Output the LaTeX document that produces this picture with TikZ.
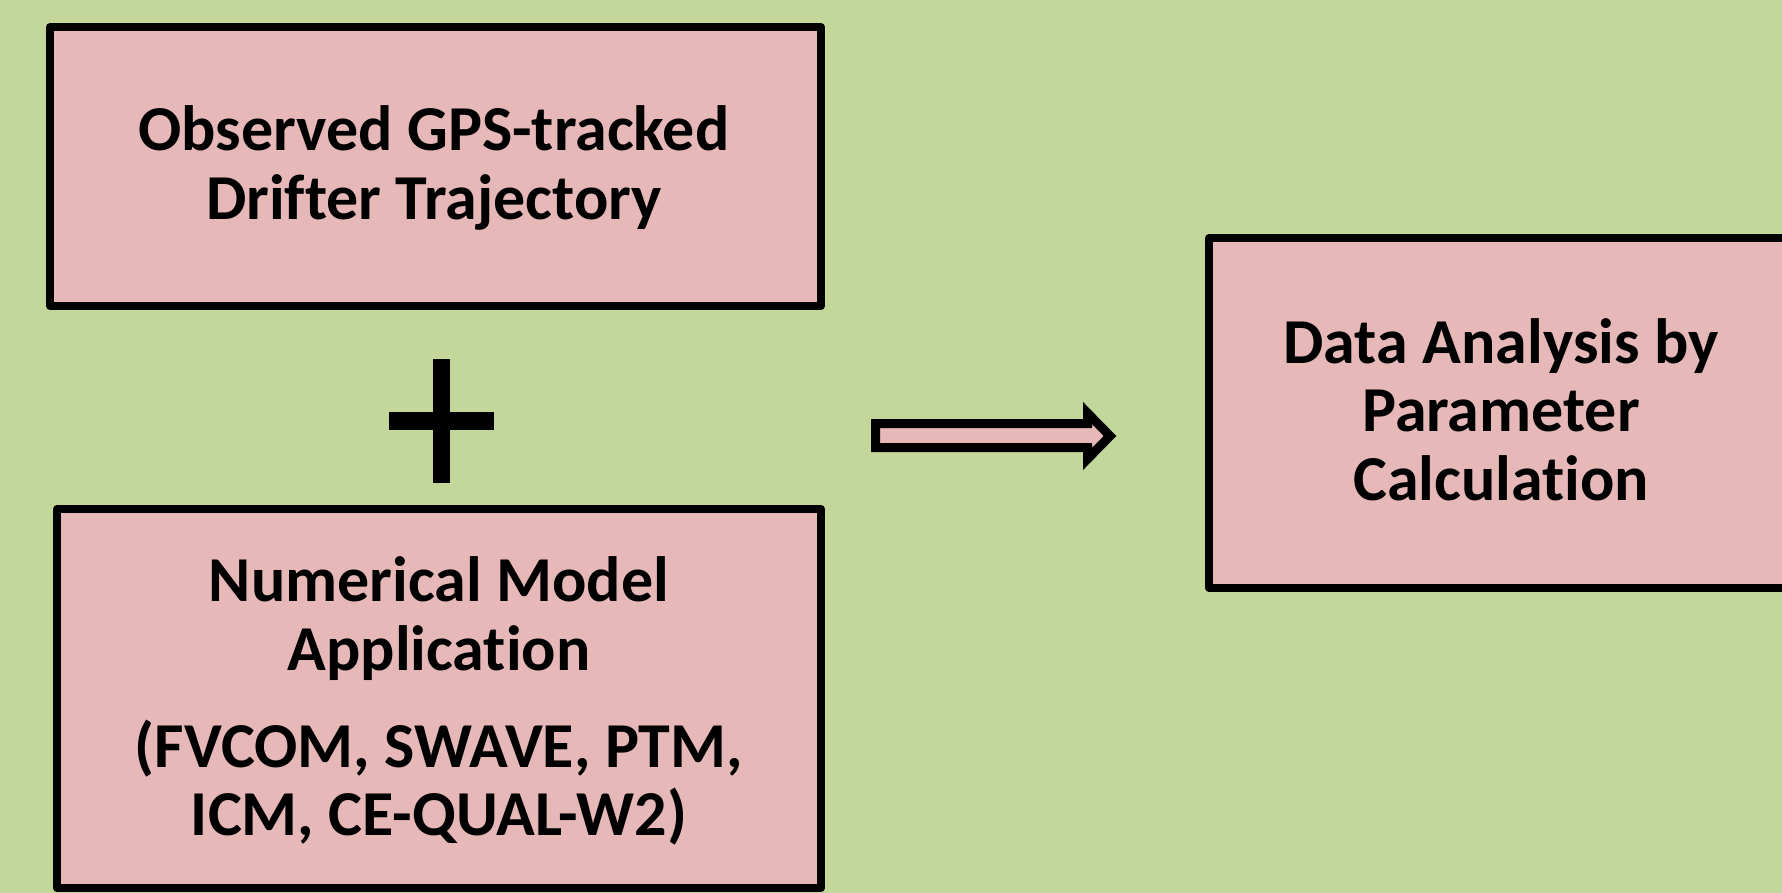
\documentclass[tikz,border=0pt]{standalone}
\usepackage{fontspec}
\setmainfont{Carlito}[Ligatures=NoCommon]
\definecolor{bggreen}{HTML}{C4D79B}
\definecolor{boxpink}{HTML}{E6B9B8}
\begin{document}
\begin{tikzpicture}[x=1pt,y=-1pt,
  box/.style={draw=black, fill=boxpink, line width=8pt, line join=round, inner sep=0pt},
  txt/.style={anchor=base, inner sep=0pt, font=\fontsize{64}{69}\selectfont\bfseries}]
% canvas
\fill[bggreen] (0,0) rectangle (1782,893);
\useasboundingbox (0,0) rectangle (1782,893);

% boxes
\node[box, minimum width=771pt, minimum height=279pt] (obs) at (435.5,166.5) {};
\node[box, minimum width=764pt, minimum height=379pt] (model) at (439,698.5) {};
\node[box, minimum width=584pt, minimum height=350pt] (anal) at (1501,413) {};

% box texts
\node[txt] (obs1) at (434,151) {Observed GPS-tracked};
\node[txt] (obs2) at (434,220) {Drifter Trajectory};

\node[txt] (mod1) at (439,601) {Numerical Model};
\node[txt] (mod2) at (439,670) {Application};
\node[txt] (mod3) at (439,767) {(FVCOM, SWAVE, PTM,};
\node[txt] (mod4) at (439,835) {ICM, CE-QUAL-W2)};

\node[txt] (an1) at (1501,363) {Data Analysis by};
\node[txt] (an2) at (1501,431) {Parameter};
\node[txt] (an3) at (1501,500) {Calculation};

% plus sign between the two input boxes
\fill[black] (433,359) rectangle (450,483);
\fill[black] (389,412) rectangle (494,430);

% block arrow towards the analysis box
\draw[fill=boxpink, line width=9pt, line join=miter]
  (875.5,423.5) -- (1087.5,423.5) -- (1087.5,413) -- (1110,436)
  -- (1087.5,459) -- (1087.5,447.5) -- (875.5,447.5) -- cycle;
\end{tikzpicture}
\end{document}
